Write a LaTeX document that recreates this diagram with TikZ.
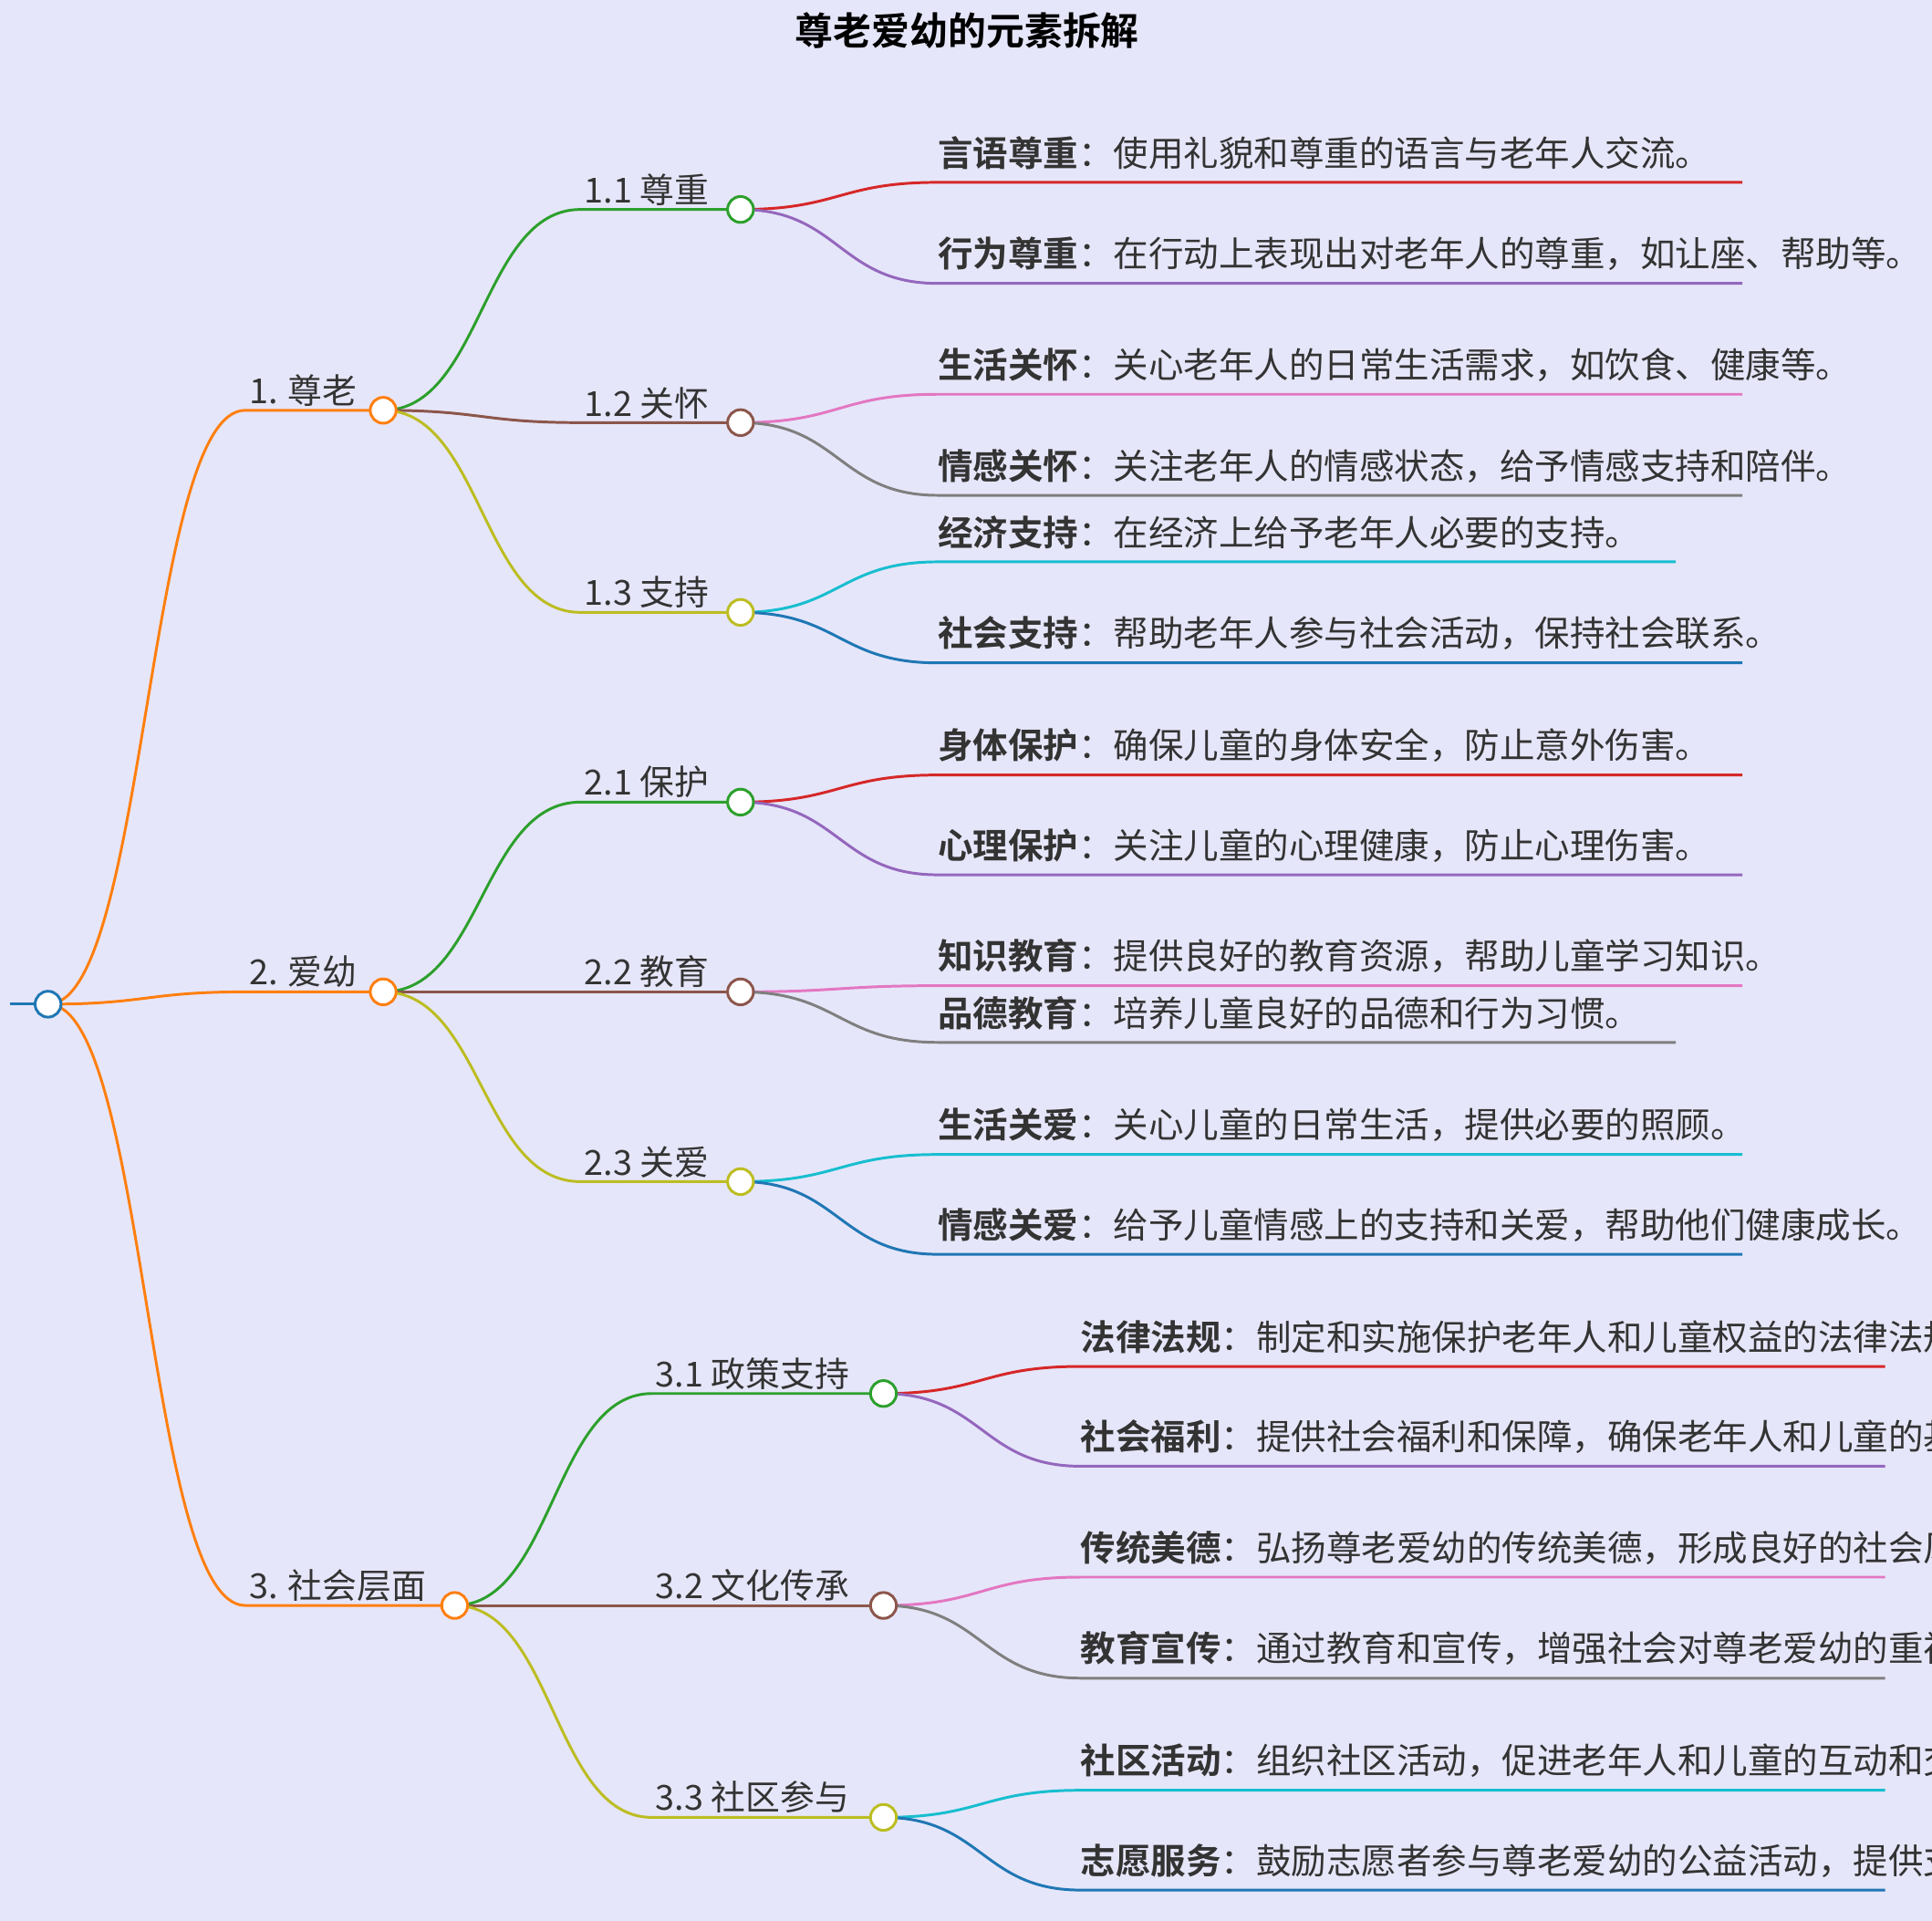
\documentclass[tikz,border=0pt]{standalone}
\usepackage{fontspec}
\usetikzlibrary{calc}
\setmainfont{Noto Sans CJK SC}[BoldFont={Noto Sans CJK SC Bold}]
\definecolor{bg}{HTML}{E6E6FA}
\definecolor{txt}{HTML}{333333}
\definecolor{cblue}{HTML}{1F77B4}
\definecolor{corange}{HTML}{FF7F0E}
\definecolor{cgreen}{HTML}{2CA02C}
\definecolor{cred}{HTML}{D62728}
\definecolor{cpurple}{HTML}{9467BD}
\definecolor{cbrown}{HTML}{8C564B}
\definecolor{cpink}{HTML}{E377C2}
\definecolor{cgray}{HTML}{7F7F7F}
\definecolor{colive}{HTML}{BCBD22}
\definecolor{ccyan}{HTML}{17BECF}
\tikzset{
  edge/.style={line width=2.2pt},
  mm/.style={to path={let \p1=(\tikztostart), \p2=(\tikztotarget) in
    .. controls ({(\x1+\x2)/2},\y1) and ({(\x1+\x2)/2},\y2) .. (\tikztotarget)}},
  dot/.style={circle, draw, fill=white, line width=2.2pt, minimum size=21pt, inner sep=0pt},
  lbl/.style={anchor=south west, inner sep=3pt, text=txt, font=\fontsize{28}{32}\selectfont},
  leaftext/.style={anchor=south west, inner sep=0pt, text=txt, align=left,
    font=\fontsize{28.5}{35}\selectfont, text width=612pt},
}
% leaf: parent, y, colour, head, rest, x start, x end
\newcommand\leaf[7]{%
  \coordinate (l-#1-#2) at (#6,#2);
  \draw[edge,#3] (#1) to[mm] (l-#1-#2) -- (#7,#2);
  \node[leaftext] (t-#1-#2) at (#6,#2-10) {\textbf{#4}：#5};
}
\begin{document}
\begin{tikzpicture}[x=1pt,y=-1pt]
\fill[bg] (0,0) rectangle (1568,1559);
\useasboundingbox (0,0) rectangle (1568,1559);
\node[font=\fontsize{31}{36}\selectfont\bfseries, text=black] (title) at (785,25) {尊老爱幼的元素拆解};

% node positions
\coordinate (root) at (39,815);
\coordinate (n1) at (311,333);
\coordinate (n2) at (311,805);
\coordinate (n3) at (369,1303);
\coordinate (n11) at (601,170);
\coordinate (n12) at (601,343);
\coordinate (n13) at (601,497);
\coordinate (n21) at (601,651);
\coordinate (n22) at (601,805);
\coordinate (n23) at (601,959);
\coordinate (n31) at (717,1131);
\coordinate (n32) at (717,1303);
\coordinate (n33) at (717,1475);

% root and level 1
\coordinate (r0) at (8,815);
\draw[edge,cblue] (r0) -- (root);
\foreach \k/\y/\t/\xs in {n1/333/1. 尊老/199, n2/805/2. 爱幼/199, n3/1303/3. 社会层面/199} {
  \coordinate (s-\k) at (\xs,\y);
  \draw[edge,corange] (root) to[mm] (s-\k) -- (\k);
  \node[lbl] at (s-\k) {\t};
}

% level 2
\foreach \p/\k/\y/\c/\t/\xs in {
  n1/n11/170/cgreen/1.1 尊重/471, n1/n12/343/cbrown/1.2 关怀/471, n1/n13/497/colive/1.3 支持/471,
  n2/n21/651/cgreen/2.1 保护/471, n2/n22/805/cbrown/2.2 教育/471, n2/n23/959/colive/2.3 关爱/471,
  n3/n31/1131/cgreen/3.1 政策支持/529, n3/n32/1303/cbrown/3.2 文化传承/529, n3/n33/1475/colive/3.3 社区参与/529} {
  \coordinate (s-\k) at (\xs,\y);
  \draw[edge,\c] (\p) to[mm] (s-\k) -- (\k);
  \node[lbl] at (s-\k) {\t};
}

% level 3
\leaf{n11}{148}{cred}{言语尊重}{使用礼貌和尊重的语言与老年人交流。}{761}{1414}
\leaf{n11}{230}{cpurple}{行为尊重}{在行动上表现出对老年人的尊重，如让座、帮助等。}{761}{1414}
\leaf{n12}{320}{cpink}{生活关怀}{关心老年人的日常生活需求，如饮食、健康等。}{761}{1414}
\leaf{n12}{402}{cgray}{情感关怀}{关注老年人的情感状态，给予情感支持和陪伴。}{761}{1414}
\leaf{n13}{456}{ccyan}{经济支持}{在经济上给予老年人必要的支持。}{761}{1360}
\leaf{n13}{538}{cblue}{社会支持}{帮助老年人参与社会活动，保持社会联系。}{761}{1414}
\leaf{n21}{629}{cred}{身体保护}{确保儿童的身体安全，防止意外伤害。}{761}{1414}
\leaf{n21}{710}{cpurple}{心理保护}{关注儿童的心理健康，防止心理伤害。}{761}{1414}
\leaf{n22}{800}{cpink}{知识教育}{提供良好的教育资源，帮助儿童学习知识。}{761}{1414}
\leaf{n22}{846}{cgray}{品德教育}{培养儿童良好的品德和行为习惯。}{761}{1360}
\leaf{n23}{937}{ccyan}{生活关爱}{关心儿童的日常生活，提供必要的照顾。}{761}{1414}
\leaf{n23}{1018}{cblue}{情感关爱}{给予儿童情感上的支持和关爱，帮助他们健康成长。}{761}{1414}
\leaf{n31}{1109}{cred}{法律法规}{制定和实施保护老年人和儿童权益的法律法规。}{877}{1530}
\leaf{n31}{1190}{cpurple}{社会福利}{提供社会福利和保障，确保老年人和儿童的基本生活需求。}{877}{1530}
\leaf{n32}{1280}{cpink}{传统美德}{弘扬尊老爱幼的传统美德，形成良好的社会风气。}{877}{1530}
\leaf{n32}{1362}{cgray}{教育宣传}{通过教育和宣传，增强社会对尊老爱幼的重视和认同。}{877}{1530}
\leaf{n33}{1453}{ccyan}{社区活动}{组织社区活动，促进老年人和儿童的互动和交流。}{877}{1530}
\leaf{n33}{1534}{cblue}{志愿服务}{鼓励志愿者参与尊老爱幼的公益活动，提供支持和帮助。}{877}{1530}

% circles on top
\node[dot,draw=cblue] at (root) {};
\foreach \k in {n1,n2,n3} \node[dot,draw=corange] at (\k) {};
\foreach \k in {n11,n21,n31} \node[dot,draw=cgreen] at (\k) {};
\foreach \k in {n12,n22,n32} \node[dot,draw=cbrown] at (\k) {};
\foreach \k in {n13,n23,n33} \node[dot,draw=colive] at (\k) {};
\end{tikzpicture}
\end{document}
